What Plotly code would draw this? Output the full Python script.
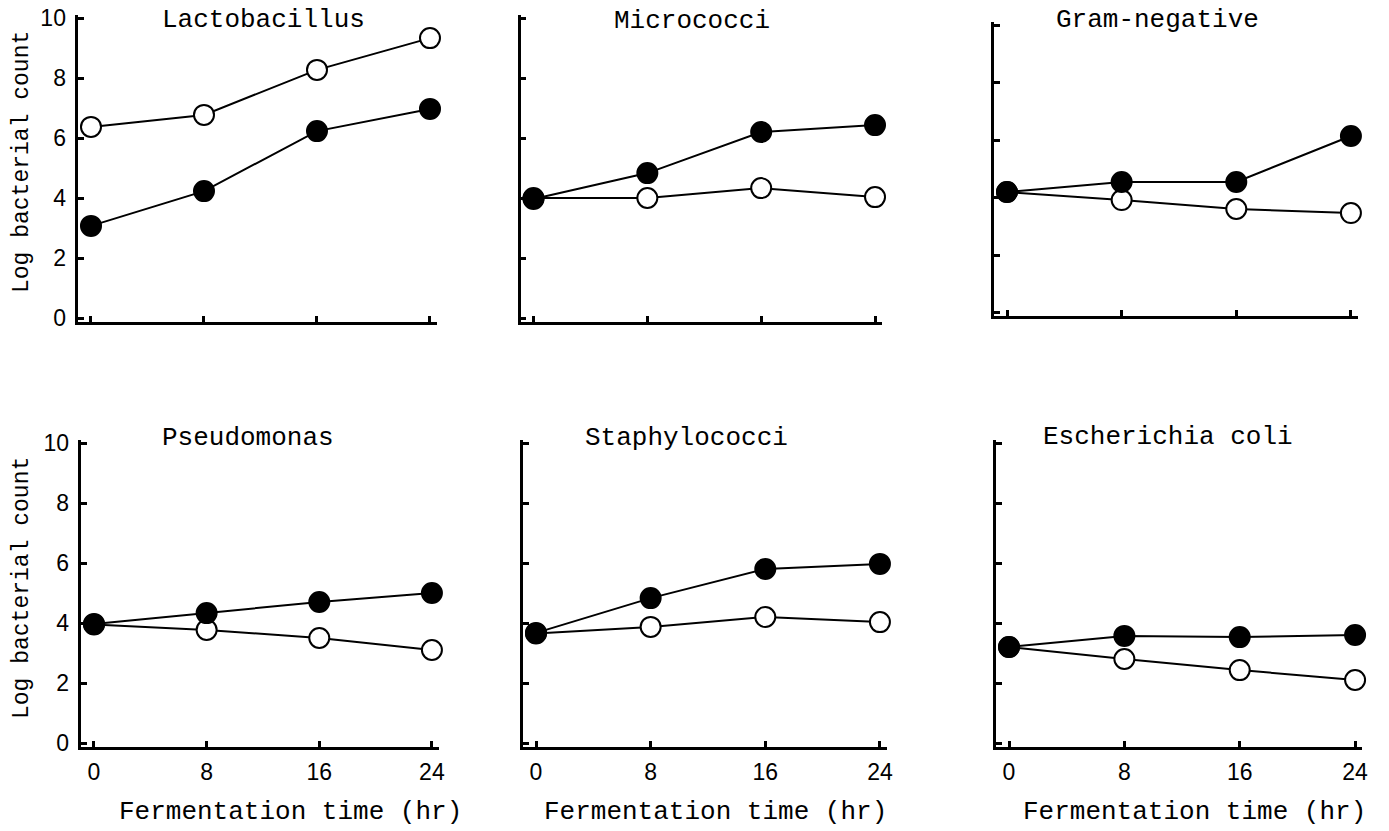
import plotly.graph_objects as go

# Fermentation sampling times (hr)
hours = [0, 8, 16, 24]
x_tick_vals = [0, 8, 16, 24]
x_tick_text = ["0", "8", "16", "24"]
y_tick_vals = [0, 2, 4, 6, 8, 10]
y_tick_text = ["0", "2", "4", "6", "8", "10"]

panel_titles = ["Lactobacillus", "Micrococci", "Gram-negative",
                "Pseudomonas", "Staphylococci", "Escherichia coli"]

# Log bacterial counts, open-circle series
lacto_open = [6.37, 6.77, 8.27, 9.33]
micro_open = [4.0, 4.0, 4.33, 4.03]
gram_open = [4.19, 3.91, 3.6, 3.46]
pseudo_open = [3.95, 3.77, 3.5, 3.1]
staph_open = [3.65, 3.87, 4.2, 4.03]
ecoli_open = [3.2, 2.8, 2.43, 2.1]

# Log bacterial counts, filled-circle series
lacto_filled = [3.07, 4.23, 6.23, 6.97]
micro_filled = [3.97, 4.83, 6.2, 6.43]
gram_filled = [4.19, 4.54, 4.54, 6.14]
pseudo_filled = [3.97, 4.33, 4.7, 5.0]
staph_filled = [3.67, 4.83, 5.8, 5.97]
ecoli_filled = [3.2, 3.57, 3.53, 3.6]

open_series = [lacto_open, micro_open, gram_open, pseudo_open, staph_open, ecoli_open]
filled_series = [lacto_filled, micro_filled, gram_filled, pseudo_filled, staph_filled, ecoli_filled]

W, H = 1389, 831
MONO = "Liberation Mono"
SANS = "Liberation Sans"

X_RANGE = [-0.9, 24.5]
Y_RANGE = [-0.13, 10.1]

# Panel geometry in pixels: (x of t=0, px per hr, y of count 0, px per log unit)
geometry = [
    (91, 14.125, 318, 30.0),
    (533.5, 14.23, 318, 30.0),
    (1007, 14.33, 312.5, 28.75),
    (94, 14.08, 743, 30.0),
    (536, 14.33, 743, 30.0),
    (1009, 14.42, 743, 30.0),
]

# Title centres (px) and axis title centres (px)
title_pos = [(263, 20), (692, 21), (1157, 20), (248, 438), (686, 438), (1168, 437)]
xtitle_pos = [(290, 812), (715, 812), (1194, 812)]
ytitle_pos = [(22, 162), (22, 588)]

fig = go.Figure()
layout = dict(
    width=W, height=H, autosize=False,
    margin=dict(l=0, r=0, t=0, b=0, pad=0, autoexpand=False),
    paper_bgcolor="white", plot_bgcolor="white",
    showlegend=False,
    annotations=[],
)

for i in range(6):
    n = i + 1
    xa = "x" if n == 1 else f"x{n}"
    ya = "y" if n == 1 else f"y{n}"
    x0, sx, y0, sy = geometry[i]
    xdom = [(x0 + X_RANGE[0] * sx) / W, (x0 + X_RANGE[1] * sx) / W]
    ydom = [1 - (y0 - Y_RANGE[0] * sy) / H, 1 - (y0 - Y_RANGE[1] * sy) / H]

    fig.add_trace(go.Scatter(
        x=hours, y=open_series[i], xaxis=xa, yaxis=ya, name="open",
        mode="lines+markers", cliponaxis=False,
        line=dict(color="black", width=2),
        marker=dict(symbol="circle", size=20, color="white",
                    line=dict(color="black", width=2)),
    ))
    fig.add_trace(go.Scatter(
        x=hours, y=filled_series[i], xaxis=xa, yaxis=ya, name="filled",
        mode="lines+markers", cliponaxis=False,
        line=dict(color="black", width=2),
        marker=dict(symbol="circle", size=20, color="black",
                    line=dict(color="black", width=2)),
    ))

    bottom_row = i >= 3
    left_col = i % 3 == 0
    layout["xaxis" if n == 1 else f"xaxis{n}"] = dict(
        domain=xdom, range=X_RANGE, anchor=ya, automargin=False,
        showline=True, linecolor="black", linewidth=2.5,
        showgrid=False, zeroline=False,
        ticks="inside", ticklen=6, tickwidth=2.5, tickcolor="black",
        tickmode="array", tickvals=x_tick_vals, ticktext=x_tick_text,
        showticklabels=bottom_row, ticklabelstandoff=3,
        tickfont=dict(family=SANS, size=23, color="black"),
        fixedrange=True,
    )
    layout["yaxis" if n == 1 else f"yaxis{n}"] = dict(
        domain=ydom, range=Y_RANGE, anchor=xa, automargin=False,
        showline=True, linecolor="black", linewidth=2.5,
        showgrid=False, zeroline=False,
        ticks="inside", ticklen=6, tickwidth=2.5, tickcolor="black",
        tickmode="array", tickvals=y_tick_vals, ticktext=y_tick_text,
        showticklabels=left_col, ticklabelstandoff=5,
        tickfont=dict(family=SANS, size=23, color="black"),
        fixedrange=True,
    )

    tx, ty = title_pos[i]
    layout["annotations"].append(dict(
        text=panel_titles[i], x=tx / W, y=1 - ty / H,
        xref="paper", yref="paper", xanchor="center", yanchor="middle",
        showarrow=False, font=dict(family=MONO, size=26, color="black"),
    ))

for (tx, ty) in xtitle_pos:
    layout["annotations"].append(dict(
        text="Fermentation time (hr)", x=tx / W, y=1 - ty / H,
        xref="paper", yref="paper", xanchor="center", yanchor="middle",
        showarrow=False, font=dict(family=MONO, size=26, color="black"),
    ))

for (tx, ty) in ytitle_pos:
    layout["annotations"].append(dict(
        text="Log bacterial count", x=tx / W, y=1 - ty / H, textangle=-90,
        xref="paper", yref="paper", xanchor="center", yanchor="middle",
        showarrow=False, font=dict(family=MONO, size=23, color="black"),
    ))

fig.update_layout(**layout)
fig.write_html("out.html", config={"displayModeBar": False})
